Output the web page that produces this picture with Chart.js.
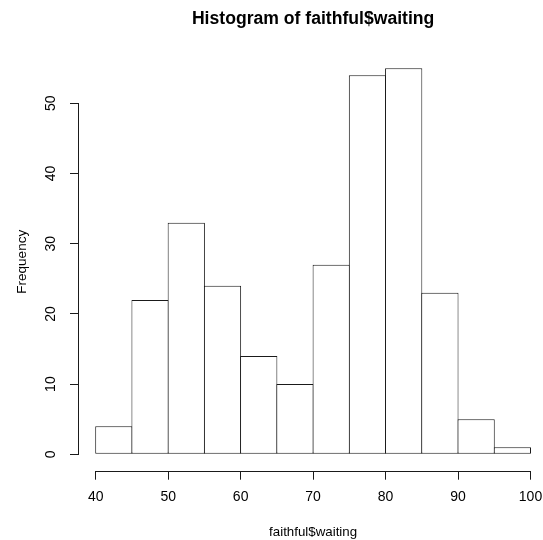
<!DOCTYPE html>
<html>
<head>
<meta charset="utf-8">
<style>
  html, body { margin: 0; padding: 0; background: #ffffff; }
  canvas { display: block; }
</style>
<script src="https://cdn.jsdelivr.net/npm/chart.js@4.4.1/dist/chart.umd.min.js"></script>
</head>
<body>
<canvas id="c" width="543" height="540"></canvas>
<script>
// ---- data ----
const breaks = [40, 45, 50, 55, 60, 65, 70, 75, 80, 85, 90, 95, 100];
const counts = [4, 22, 33, 24, 14, 10, 27, 54, 55, 23, 5, 1];
const xTickValues = [40, 50, 60, 70, 80, 90, 100];
const yTickValues = [0, 10, 20, 30, 40, 50];
const titleText = 'Histogram of faithful$waiting';
const xTitle = 'faithful$waiting';
const yTitle = 'Frequency';

const points = counts.map((c, i) => ({ x: (breaks[i] + breaks[i + 1]) / 2, y: c }));

const FONT = '"Liberation Sans", Arial, Helvetica, sans-serif';

const textPlugin = {
  id: 'rStyle',
  afterDraw(chart) {
    const ctx = chart.ctx;
    const xs = chart.scales.x, ys = chart.scales.y;
    const ca = chart.chartArea;
    const xFirst = xs.getPixelForValue(xTickValues[0]);
    const xLast = xs.getPixelForValue(xTickValues[xTickValues.length - 1]);
    const y0 = ys.getPixelForValue(yTickValues[0]);
    const yTop = ys.getPixelForValue(yTickValues[yTickValues.length - 1]);
    const xCenter = xs.getPixelForValue((xTickValues[0] + xTickValues[xTickValues.length - 1]) / 2);
    const yCenter = (ca.top + ca.bottom) / 2;

    ctx.save();
    ctx.strokeStyle = '#1a1a1a';
    ctx.lineWidth = 1;
    // axis lines
    ctx.beginPath();
    ctx.moveTo(Math.round(ca.left) - 0.5, y0);
    ctx.lineTo(Math.round(ca.left) - 0.5, yTop);
    ctx.moveTo(xFirst, Math.round(ca.bottom) + 0.5);
    ctx.lineTo(xLast, Math.round(ca.bottom) + 0.5);
    ctx.stroke();

    ctx.fillStyle = '#000';
    // x tick labels
    ctx.font = '14px ' + FONT;
    ctx.textAlign = 'center';
    ctx.textBaseline = 'alphabetic';
    xs.ticks.forEach(t => {
      ctx.fillText(String(t.value), xs.getPixelForValue(t.value), 500.8);
    });
    // y tick labels (rotated)
    ys.ticks.forEach(t => {
      ctx.save();
      ctx.translate(54.5, ys.getPixelForValue(t.value));
      ctx.rotate(-Math.PI / 2);
      ctx.fillText(String(t.value), 0, 0);
      ctx.restore();
    });
    // axis titles
    ctx.font = '13.3px ' + FONT;
    ctx.fillText(xTitle, xCenter, 535.5);
    ctx.save();
    ctx.translate(25.7, yCenter);
    ctx.rotate(-Math.PI / 2);
    ctx.font = '13.5px ' + FONT;
    ctx.fillText(yTitle, 0, 0);
    ctx.restore();
    // main title
    ctx.font = 'bold 17.6px ' + FONT;
    ctx.fillText(titleText, xCenter, 24);
    ctx.restore();
  }
};

const pxPerUnit = 7.2467;
const binPx = 5 * pxPerUnit;

new Chart(document.getElementById('c'), {
  type: 'bar',
  data: {
    datasets: [{
      data: points,
      backgroundColor: '#ffffff',
      borderColor: '#1a1a1a',
      borderWidth: 1,
      borderSkipped: false,
      inflateAmount: 0,
      barPercentage: (binPx + 1) / binPx,
      categoryPercentage: 1
    }]
  },
  options: {
    responsive: false,
    animation: false,
    devicePixelRatio: 1,
    layout: { padding: { top: 52.8, right: 8.88, bottom: 0, left: 0 } },
    plugins: { legend: { display: false }, tooltip: { enabled: false }, title: { display: false } },
    scales: {
      x: {
        type: 'linear',
        offset: false,
        min: 37.6955,
        max: 100.5,
        afterBuildTicks: s => { s.ticks = xTickValues.map(v => ({ value: v })); },
        afterFit: s => { s.height = 69.3; },
        ticks: { display: false },
        grid: { offset: false, drawOnChartArea: false, drawTicks: true, tickLength: 9, color: '#1a1a1a', lineWidth: 1 },
        border: { display: false }
      },
      y: {
        type: 'linear',
        min: -2.336,
        max: 57.2,
        afterBuildTicks: s => { s.ticks = yTickValues.map(v => ({ value: v })); },
        afterFit: s => { s.width = 79; },
        ticks: { display: false },
        grid: { drawOnChartArea: false, drawTicks: true, tickLength: 9, color: '#1a1a1a', lineWidth: 1 },
        border: { display: false }
      }
    }
  },
  plugins: [textPlugin]
});
</script>
</body>
</html>
